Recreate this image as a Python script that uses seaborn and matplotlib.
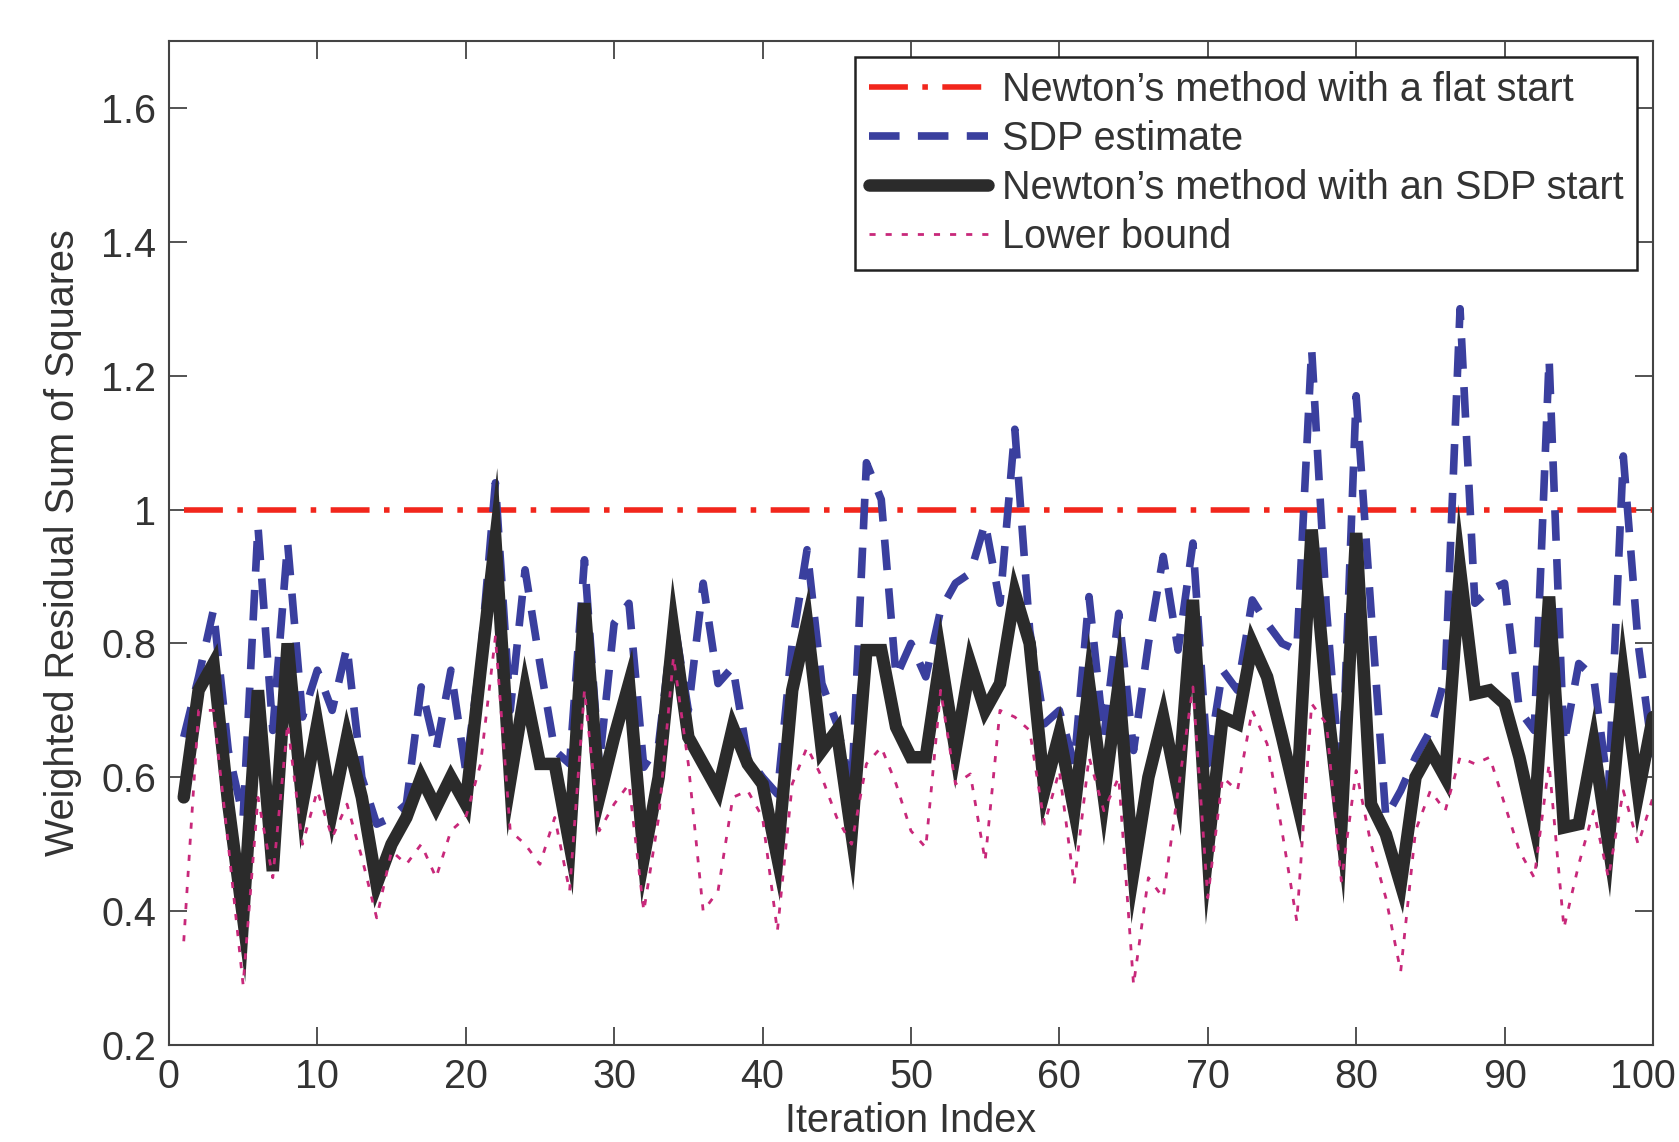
import numpy as np
import pandas as pd
import matplotlib
matplotlib.use("Agg")
import matplotlib.pyplot as plt
import matplotlib.transforms as mtransforms
import seaborn as sns

# ---------------- data ----------------
iteration = list(range(1, 101))

flat_start_value = 1.0  # Newton's method with a flat start (constant)

sdp_estimate = [
    0.66, 0.75, 0.85, 0.64, 0.54, 0.975, 0.67, 0.95, 0.69, 0.76,
    0.70, 0.795, 0.60, 0.53, 0.54, 0.56, 0.735, 0.64, 0.76, 0.61,
    0.78, 1.04, 0.70, 0.91, 0.77, 0.64, 0.62, 0.925, 0.62, 0.83,
    0.86, 0.615, 0.65, 0.84, 0.70, 0.89, 0.74, 0.765, 0.63, 0.60,
    0.575, 0.80, 0.94, 0.74, 0.68, 0.58, 1.07, 1.015, 0.75, 0.80,
    0.75, 0.85, 0.89, 0.905, 0.98, 0.86, 1.12, 0.82, 0.68, 0.70,
    0.62, 0.87, 0.66, 0.845, 0.64, 0.80, 0.93, 0.79, 0.95, 0.62,
    0.76, 0.73, 0.865, 0.83, 0.80, 0.79, 1.24, 0.85, 0.58, 1.17,
    0.85, 0.54, 0.58, 0.63, 0.67, 0.75, 1.30, 0.86, 0.88, 0.89,
    0.70, 0.67, 1.225, 0.65, 0.77, 0.75, 0.58, 1.08, 0.80, 0.63,
]

newton_sdp_start = [
    0.57, 0.73, 0.77, 0.56, 0.39, 0.73, 0.46, 0.80, 0.56, 0.68,
    0.55, 0.66, 0.57, 0.44, 0.50, 0.54, 0.60, 0.555, 0.60, 0.56,
    0.76, 0.955, 0.595, 0.73, 0.62, 0.62, 0.50, 0.86, 0.57, 0.66,
    0.74, 0.48, 0.60, 0.82, 0.66, 0.62, 0.58, 0.675, 0.62, 0.59,
    0.48, 0.73, 0.83, 0.64, 0.67, 0.515, 0.79, 0.79, 0.675, 0.63,
    0.63, 0.78, 0.64, 0.77, 0.70, 0.74, 0.875, 0.80, 0.58, 0.665,
    0.55, 0.74, 0.57, 0.74, 0.46, 0.60, 0.69, 0.58, 0.865, 0.49,
    0.69, 0.68, 0.80, 0.75, 0.66, 0.565, 0.97, 0.72, 0.525, 0.965,
    0.56, 0.515, 0.44, 0.60, 0.64, 0.60, 0.91, 0.725, 0.73, 0.71,
    0.63, 0.53, 0.87, 0.525, 0.53, 0.65, 0.50, 0.75, 0.575, 0.69,
]

lower_bound = [
    0.355, 0.70, 0.70, 0.50, 0.29, 0.57, 0.45, 0.68, 0.50, 0.58,
    0.51, 0.56, 0.48, 0.39, 0.49, 0.47, 0.50, 0.45, 0.52, 0.54,
    0.62, 0.81, 0.52, 0.50, 0.47, 0.54, 0.43, 0.73, 0.52, 0.56,
    0.59, 0.40, 0.54, 0.78, 0.62, 0.40, 0.43, 0.57, 0.58, 0.54,
    0.37, 0.59, 0.645, 0.60, 0.54, 0.50, 0.62, 0.645, 0.59, 0.52,
    0.495, 0.73, 0.59, 0.605, 0.475, 0.70, 0.69, 0.67, 0.53, 0.61,
    0.44, 0.63, 0.55, 0.60, 0.29, 0.45, 0.42, 0.58, 0.735, 0.42,
    0.60, 0.58, 0.70, 0.65, 0.52, 0.385, 0.71, 0.68, 0.445, 0.61,
    0.50, 0.42, 0.31, 0.52, 0.58, 0.55, 0.63, 0.62, 0.63, 0.56,
    0.49, 0.45, 0.62, 0.375, 0.47, 0.55, 0.45, 0.58, 0.50, 0.57,
]

x_ticks = list(range(0, 101, 10))
y_ticks = [0.2, 0.4, 0.6, 0.8, 1.0, 1.2, 1.4, 1.6]
y_tick_labels = ["0.2", "0.4", "0.6", "0.8", "1", "1.2", "1.4", "1.6"]

labels = [
    "Newton\u2019s method with a flat start",
    "SDP estimate",
    "Newton\u2019s method with an SDP start",
    "Lower bound",
]

# ---------------- styling ----------------
sns.set_theme(style="ticks")
plt.rcParams["font.family"] = ["Liberation Sans", "DejaVu Sans"]
text_color = "#333333"
FS = 28.5

fig = plt.figure(figsize=(16.79, 11.42), dpi=100)
ax = fig.add_axes([0.1006, 0.0849, 0.8839, 0.8792])

df = pd.DataFrame({
    "iteration": iteration,
    "flat": np.full(len(iteration), flat_start_value),
    "sdp": sdp_estimate,
    "newton_sdp": newton_sdp_start,
    "lb": lower_bound,
})

sns.lineplot(data=df, x="iteration", y="flat", ax=ax, color="#f2261c",
             linewidth=4.0, label=labels[0])
ax.lines[-1].set_linestyle((0, (7, 2.6, 1.0, 2.6)))

sns.lineplot(data=df, x="iteration", y="sdp", ax=ax, color="#3a3f9e",
             linewidth=5.5, label=labels[1])
ax.lines[-1].set_linestyle((0, (4.0, 2.4)))

sns.lineplot(data=df, x="iteration", y="newton_sdp", ax=ax, color="#2b2b2b",
             linewidth=9.0, label=labels[2])

sns.lineplot(data=df, x="iteration", y="lb", ax=ax, color="#c8287a",
             linewidth=2.0, label=labels[3])
ax.lines[-1].set_linestyle((0, (2.2, 3.6)))

for ln in ax.lines:
    ln.set_solid_joinstyle("miter")

ax.set_xlim(0, 100)
ax.set_ylim(0.2, 1.7)
ax.set_xticks(x_ticks)
ax.set_xticklabels([str(t) for t in x_ticks])
ax.set_yticks(y_ticks)
ax.set_yticklabels(y_tick_labels)

ax.tick_params(direction="in", length=13, width=1.3, colors="#444444",
               labelsize=FS, labelcolor=text_color, top=True, right=True,
               pad=9)
for sp in ax.spines.values():
    sp.set_visible(True)
    sp.set_color("#444444")
    sp.set_linewidth(1.5)

# keep the last x tick label ("100") inside the figure edge
last_lbl = ax.get_xticklabels()[-1]
last_lbl.set_transform(last_lbl.get_transform() +
                       mtransforms.ScaledTranslation(-0.1, 0, fig.dpi_scale_trans))

ax.set_xlabel("Iteration Index", fontsize=FS, color=text_color, labelpad=5)
ax.set_ylabel("Weighted Residual Sum of Squares", fontsize=FS,
              color=text_color, labelpad=14)

leg = ax.legend(loc="upper right", fontsize=FS, frameon=True, fancybox=False,
                handlelength=3.0, handletextpad=0.35, borderpad=0.35,
                labelspacing=0.28, borderaxespad=0.4,
                bbox_to_anchor=(1.0, 1.0))
leg.get_frame().set_edgecolor("#222222")
leg.get_frame().set_linewidth(1.8)
leg.get_frame().set_alpha(1.0)
for t in leg.get_texts():
    t.set_color(text_color)

fig.savefig("out.png", dpi=100)
